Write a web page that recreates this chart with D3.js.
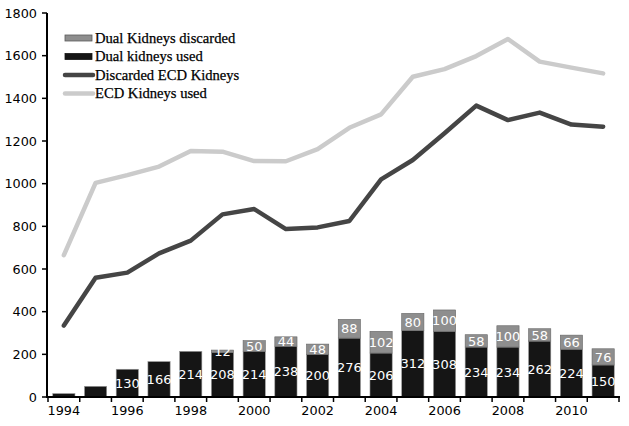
<!DOCTYPE html>
<html><head><meta charset="utf-8">
<script src="https://cdn.jsdelivr.net/npm/d3@7"></script>
<style>body{margin:0;background:#fff}svg{display:block}</style>
</head><body>
<script>
const years = [1994,1995,1996,1997,1998,1999,2000,2001,2002,2003,2004,2005,2006,2007,2008,2009,2010,2011];
const dualUsed = [16,50,130,166,214,208,214,238,200,276,206,312,308,234,234,262,224,150];
const dualDiscarded = [0,0,0,0,0,12,50,44,48,88,102,80,100,58,100,58,66,76];
const usedLabels = [null,null,"130","166","214","208","214","238","200","276","206","312","308","234","234","262","224","150"];
const discLabels = [null,null,null,null,null,"12","50","44","48","88","102","80","100","58","100","58","66","76"];
const ecdDiscarded = [335,559,583,673,733,856,881,787,795,825,1020,1111,1236,1366,1298,1333,1277,1267];
const ecdUsed = [665,1004,1040,1080,1153,1150,1106,1105,1162,1262,1325,1501,1537,1598,1678,1572,1544,1517];
const yTicks = [0,200,400,600,800,1000,1200,1400,1600,1800];
const xLabelYears = [1994,1996,1998,2000,2002,2004,2006,2008,2010];
const legendItems = [
  {label:"Dual Kidneys discarded", type:"rect", fill:"#8e8e8e", stroke:"#5a5a5a"},
  {label:"Dual kidneys used", type:"rect", fill:"#151515", stroke:"#151515"},
  {label:"Discarded ECD Kidneys", type:"line", color:"#454545"},
  {label:"ECD Kidneys used", type:"line", color:"#cbcbcb"}
];

const W=629,H=426;
const svg=d3.select("body").append("svg").attr("width",W).attr("height",H);
const x=d3.scaleBand().domain(years).range([48,619]).paddingInner(0.3).paddingOuter(0.15);
const y=d3.scaleLinear().domain([0,1800]).range([397,13]);
const step=x.step();

// bars
const g=svg.append("g");
years.forEach((yr,i)=>{
  const bx=x(yr), bw=x.bandwidth();
  g.append("rect").attr("x",bx).attr("y",y(dualUsed[i])).attr("width",bw).attr("height",y(0)-y(dualUsed[i]))
   .attr("fill","#151515").attr("stroke","#999").attr("stroke-width",0.6);
  if(dualDiscarded[i]>0){
    const top=dualUsed[i]+dualDiscarded[i];
    g.append("rect").attr("x",bx).attr("y",y(top)).attr("width",bw).attr("height",y(dualUsed[i])-y(top))
     .attr("fill","#8e8e8e").attr("stroke","#666").attr("stroke-width",0.6);
  }
});
// labels
const lf='"DejaVu Sans", Verdana, sans-serif';
years.forEach((yr,i)=>{
  const cx=x(yr)+x.bandwidth()/2;
  if(usedLabels[i]){
    g.append("text").attr("x",cx).attr("y",y(dualUsed[i]/2)).attr("dy","0.36em").attr("text-anchor","middle")
     .attr("fill","#fff").attr("font-family",lf).attr("font-size",13).text(usedLabels[i]);
  }
  if(discLabels[i]){
    g.append("text").attr("x",cx).attr("y",y(dualUsed[i]+dualDiscarded[i]/2)).attr("dy","0.36em").attr("text-anchor","middle")
     .attr("fill","#fff").attr("font-family",lf).attr("font-size",13).text(discLabels[i]);
  }
});

// lines
const line=d3.line().x((d,i)=>x(years[i])+x.bandwidth()/2).y(d=>y(d));
svg.append("path").datum(ecdUsed).attr("d",line).attr("fill","none").attr("stroke","#cbcbcb").attr("stroke-width",4.5).attr("stroke-linejoin","round").attr("stroke-linecap","round");
svg.append("path").datum(ecdDiscarded).attr("d",line).attr("fill","none").attr("stroke","#454545").attr("stroke-width",4.5).attr("stroke-linejoin","round").attr("stroke-linecap","round");

// axes
const ax=svg.append("g").attr("font-family",lf).attr("font-size",12.8).attr("fill","#000");
ax.append("line").attr("x1",47).attr("x2",47).attr("y1",y(1800)).attr("y2",y(0)+1).attr("stroke","#000").attr("stroke-width",2);
ax.append("line").attr("x1",46).attr("x2",620).attr("y1",y(0)).attr("y2",y(0)).attr("stroke","#000").attr("stroke-width",2);
yTicks.forEach(t=>{
  ax.append("line").attr("x1",42).attr("x2",47).attr("y1",y(t)).attr("y2",y(t)).attr("stroke","#000").attr("stroke-width",1.5);
  ax.append("text").attr("x",37).attr("y",y(t)).attr("dy","0.36em").attr("text-anchor","end").text(t);
});
d3.range(years.length+1).forEach(i=>{
  const tx=48+i*step;
  ax.append("line").attr("x1",tx).attr("x2",tx).attr("y1",y(0)).attr("y2",y(0)+5).attr("stroke","#000").attr("stroke-width",1.5);
});
xLabelYears.forEach(yr=>{
  ax.append("text").attr("x",x(yr)+x.bandwidth()/2).attr("y",415).attr("text-anchor","middle").text(yr);
});

// legend
const lg=svg.append("g");
legendItems.forEach((it,i)=>{
  const cy=38+i*18.5;
  if(it.type==="rect"){
    lg.append("rect").attr("x",65).attr("y",cy-3).attr("width",27).attr("height",6).attr("fill",it.fill).attr("stroke",it.stroke).attr("stroke-width",0.8);
  } else {
    lg.append("line").attr("x1",65).attr("x2",93).attr("y1",cy).attr("y2",cy).attr("stroke",it.color).attr("stroke-width",4.5).attr("stroke-linecap","round");
  }
  lg.append("text").attr("x",95).attr("y",cy).attr("dy","0.33em").attr("font-family",'"Liberation Serif", serif').attr("font-size",14.6).attr("fill","#000").attr("stroke","#000").attr("stroke-width",0.25).text(it.label);
});
</script>
</body></html>
